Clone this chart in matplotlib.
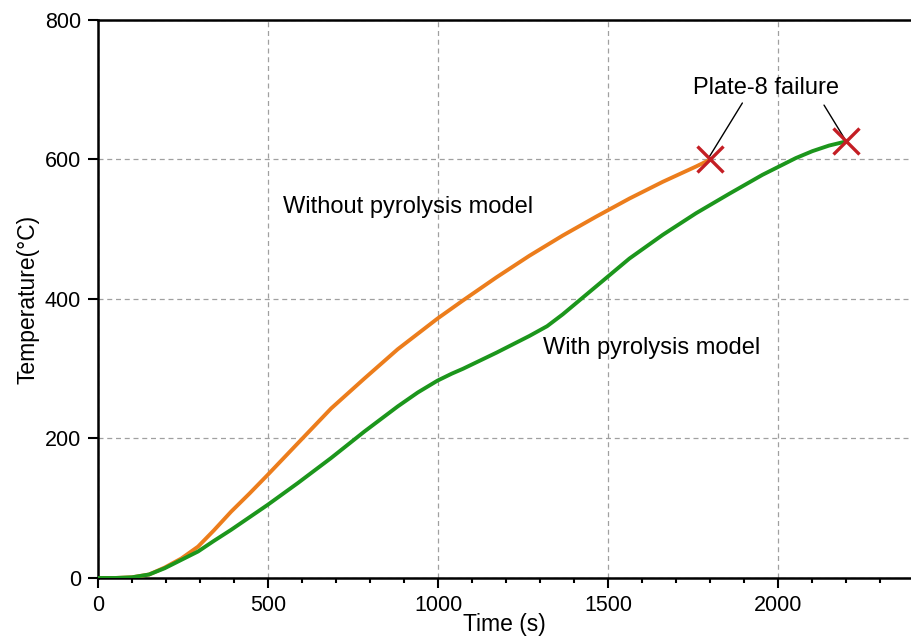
import matplotlib
matplotlib.use("Agg")
import matplotlib.pyplot as plt
from matplotlib.ticker import MultipleLocator

plt.rcParams['font.family'] = ['Liberation Sans', 'DejaVu Sans']

time_wo = [0, 50, 100, 150, 196, 245, 294, 340, 391, 445, 499, 587, 685, 783, 881, 998,
           1073, 1171, 1268, 1366, 1464, 1562, 1660, 1758, 1800]
temp_wo = [0, 0, 1, 5, 15, 28, 45, 68, 95, 121, 148, 193, 243, 286, 328, 372,
           398, 431, 462, 491, 518, 544, 568, 590, 600]

time_w = [0, 50, 100, 150, 196, 245, 294, 340, 391, 445, 499, 587, 685, 783, 881, 940, 998,
          1040, 1073, 1171, 1268, 1320, 1366, 1415, 1464, 1562, 1660, 1758, 1856, 1953,
          2051, 2100, 2149, 2200]
temp_w = [0, 0, 1, 5, 14, 26, 38, 53, 69, 87, 105, 136, 172, 210, 246, 266, 283,
          293, 300, 323, 347, 361, 378, 398, 418, 458, 492, 523, 551, 578,
          602, 612, 620, 626]

fail_t = [1800, 2200]
fail_T = [600, 626]

fig = plt.figure(figsize=(9.11, 6.43), dpi=100)
ax = fig.add_axes([0.1076, 0.1011, 0.8914, 0.8678])

ax.plot(time_wo, temp_wo, color='#EC7D1C', lw=2.8, zorder=3,
        solid_joinstyle='round', solid_capstyle='round')
ax.plot(time_w, temp_w, color='#1C961C', lw=2.8, zorder=3,
        solid_joinstyle='round', solid_capstyle='round')
ax.plot(fail_t, fail_T, ls='none', marker='x', ms=19, mew=2.4, color='#C41E24', zorder=4)

ax.set_xlim(0, 2387)
ax.set_ylim(0, 800)
ax.xaxis.set_major_locator(MultipleLocator(500))
ax.xaxis.set_minor_locator(MultipleLocator(100))
ax.yaxis.set_major_locator(MultipleLocator(200))

ax.grid(True, which='major', ls=(0, (4, 3)), color='#A0A0A0', lw=0.9)
ax.set_axisbelow(True)

for s in ['left', 'bottom', 'top']:
    ax.spines[s].set_linewidth(1.8)
ax.spines['right'].set_visible(False)
ax.tick_params(which='major', direction='out', length=7.2, width=1.5, labelsize=15.5, pad=5)
ax.tick_params(which='minor', direction='out', length=3.6, width=1.5)

ax.set_xlabel('Time (s)', fontsize=16.5, labelpad=-2)
ax.set_ylabel('Temperature(°C)', fontsize=16.5, labelpad=4)

ax.text(543, 532, 'Without pyrolysis model', fontsize=17, va='center', ha='left')
ax.text(1309, 330, 'With pyrolysis model', fontsize=17, va='center', ha='left')
ax.text(1962, 702, 'Plate-8 failure', fontsize=17, va='center', ha='center')
ax.annotate('', xy=(1797, 604), xytext=(1894, 681),
            arrowprops=dict(arrowstyle='-', color='black', lw=1.0,
                            shrinkA=0, shrinkB=0))
ax.annotate('', xy=(2193, 631), xytext=(2134, 678),
            arrowprops=dict(arrowstyle='-', color='black', lw=1.0,
                            shrinkA=0, shrinkB=0))

fig.savefig('out.png', dpi=100)
